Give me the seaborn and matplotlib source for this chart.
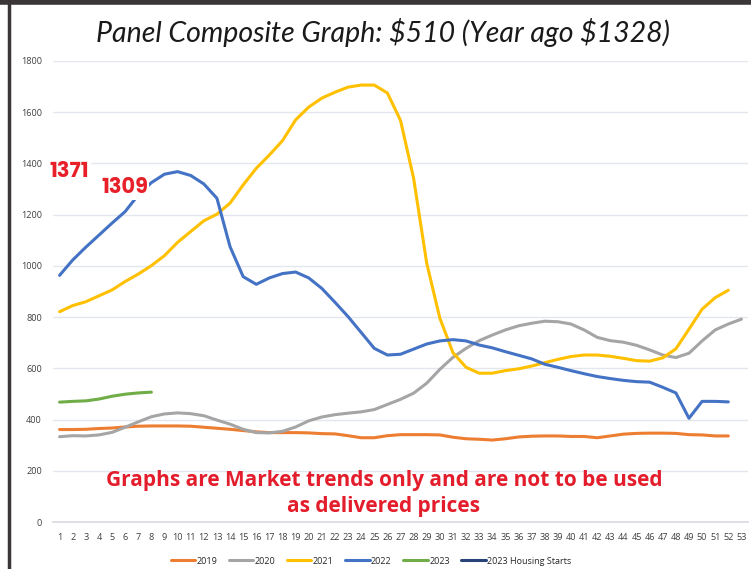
import numpy as np
import pandas as pd
import seaborn as sns
import matplotlib.pyplot as plt
from matplotlib.lines import Line2D

# weekly panel composite prices
weeks = list(range(1, 54))

price_2019 = [361, 361, 362, 365, 367, 371, 374, 375, 375, 375, 374, 370, 366, 362, 357, 352, 349, 349,
              349, 348, 345, 344, 337, 329, 329, 337, 341, 341, 341, 340, 331, 325, 323, 320, 325, 332,
              335, 336, 336, 334, 334, 329, 336, 343, 346, 347, 347, 346, 341, 340, 336, 336]
price_2020 = [333, 337, 336, 340, 350, 370, 391, 411, 422, 426, 423, 415, 398, 382, 362, 349, 348, 354,
              371, 395, 410, 419, 425, 430, 439, 459, 479, 503, 542, 596, 643, 678, 708, 730, 750, 766,
              776, 784, 782, 773, 750, 721, 708, 702, 690, 672, 652, 642, 659, 707, 750, 773, 792]
price_2021 = [821, 845, 860, 883, 906, 939, 968, 1001, 1040, 1092, 1134, 1176, 1202, 1245, 1316, 1381,
              1433, 1489, 1570, 1620, 1655, 1678, 1698, 1706, 1706, 1675, 1568, 1342, 1010, 796, 661,
              604, 581, 581, 591, 598, 609, 622, 635, 646, 652, 652, 647, 639, 630, 628, 641, 676, 753,
              831, 876, 905]
price_2022 = [963, 1023, 1073, 1120, 1167, 1212, 1277, 1325, 1358, 1368, 1353, 1320, 1264, 1075, 958,
              928, 953, 970, 976, 953, 912, 858, 802, 740, 678, 652, 655, 675, 695, 707, 712, 707, 691,
              680, 665, 651, 637, 616, 604, 591, 579, 568, 560, 553, 548, 546, 526, 504, 405, 471, 471,
              469]
price_2023 = [468, 471, 473, 480, 491, 499, 504, 507]
housing_starts_2023 = []

series_names = ['2019', '2020', '2021', '2022', '2023', '2023 Housing Starts']
series_values = [price_2019, price_2020, price_2021, price_2022, price_2023, housing_starts_2023]
colors = ['#ED7D31', '#A5A5A5', '#FFC000', '#4472C4', '#70AD47', '#264478']

callout_text = ['1371', '1309']
callout_week = [1.75, 5.95]
callout_value = [1367, 1305]

sns.set_theme(style='white')
plt.rcParams['font.family'] = ['Open Sans', 'DejaVu Sans']

fig = plt.figure(figsize=(7.51, 5.69), dpi=100)
ax = fig.add_axes([0.0706, 0.0826, 0.9254, 0.8102])

for name, vals, col in zip(series_names, series_values, colors):
    if len(vals) == 0:
        ax.plot([], [], color=col, lw=2.2, label=name)
        continue
    df = pd.DataFrame({'week': weeks[:len(vals)], 'price': vals})
    sns.lineplot(data=df, x='week', y='price', ax=ax, color=col, lw=2.2,
                 label=name, legend=False)

ax.set_xlim(0.5, 53.5)
ax.set_ylim(0, 1800)
ax.set_yticks(range(0, 1801, 200))
ax.set_xticks(weeks)
ax.set_xticks([w + 0.5 for w in range(0, 54)], minor=True)
ax.grid(axis='y', color='#e3e6ec', lw=1)
ax.set_axisbelow(True)
for s in ['top', 'right', 'left']:
    ax.spines[s].set_visible(False)
ax.spines['bottom'].set_color('#d9dce3')
ax.tick_params(axis='x', which='major', length=0, labelsize=6.6, labelcolor='#404040', pad=8)
ax.tick_params(axis='x', which='minor', length=4, color='#d9dce3', width=1)
ax.tick_params(axis='y', length=0, labelsize=6.6, labelcolor='#404040', pad=8)
ax.set_xlabel('')
ax.set_ylabel('')

for t, wk, v in zip(callout_text, callout_week, callout_value):
    ax.text(wk, v, t, color='#e8202a', fontsize=15, fontweight='bold', ha='center', va='center',
            family=['Poppins', 'Open Sans', 'DejaVu Sans'],
            bbox=dict(facecolor='white', edgecolor='none', pad=1.0), clip_on=False, zorder=5)

ax.text(0.476, 0.062, 'Graphs are Market trends only and are not to be used\nas delivered prices',
        transform=ax.transAxes, ha='center', va='center', color='#e31d2b', fontsize=15,
        fontweight='bold', linespacing=1.3)

fig.text(0.51, 0.943, 'Panel Composite Graph: \\$510 (Year ago \\$1328)', ha='center', va='center',
         fontsize=20.5, style='italic', color='#1a1a1a', family=['Lato', 'DejaVu Sans'])

handles = [Line2D([], [], color=c, lw=2.2) for c in colors]
fig.legend(handles, series_names, loc='center', bbox_to_anchor=(0.494, 0.014), ncol=6,
           frameon=False, fontsize=6.5, handlelength=2.7, columnspacing=1.3, handletextpad=0.15)

# dark frame at top and left, as in the source screenshot
fig.add_artist(Line2D([0, 1], [0.997, 0.997], color='#3a3536', lw=4, transform=fig.transFigure))
fig.add_artist(Line2D([0.0125, 0.0125], [0, 1], color='#3a3536', lw=2.5, transform=fig.transFigure))

fig.savefig('out.png', dpi=100)
